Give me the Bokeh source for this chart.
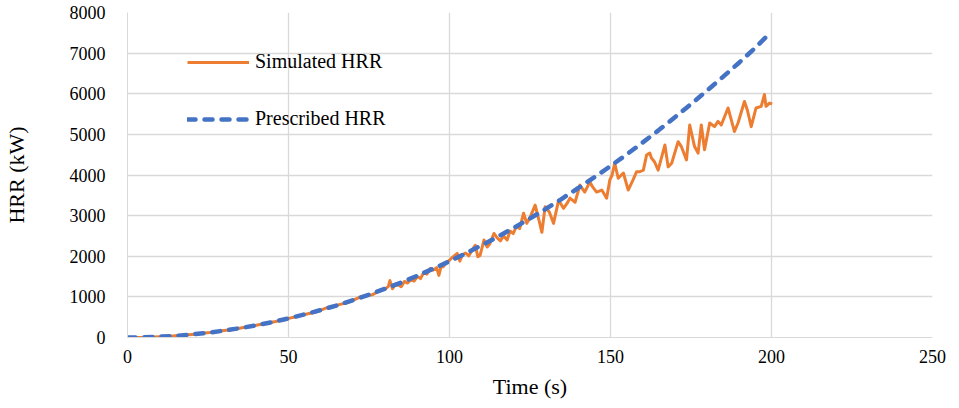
from bokeh.plotting import figure
from bokeh.models import Range1d, FixedTicker, Legend, LegendItem
from bokeh.embed import file_html
from bokeh.resources import INLINE

# Prescribed HRR (kW)
prescribed_t = [0, 5, 10, 15, 20, 25, 30, 35, 40, 45, 50, 55, 60, 65, 70, 75, 80, 85, 90, 95,
                100, 105, 110, 115, 120, 125, 130, 135, 140, 145, 150, 155, 160, 165, 170, 175,
                180, 185, 190, 195, 200]
prescribed_hrr = [0, 5, 20, 40, 75, 115, 170, 230, 300, 380, 470, 570, 675, 790, 920, 1055,
                  1200, 1355, 1520, 1695, 1875, 2070, 2270, 2480, 2700, 2930, 3170, 3420, 3680,
                  3945, 4220, 4505, 4800, 5105, 5420, 5745, 6080, 6420, 6770, 7135, 7530]

# Simulated HRR (kW)
simulated_t = [0, 2, 4, 6, 8, 10, 12, 14, 16, 18, 20, 22, 24, 26, 28, 30, 32, 34, 36, 38, 40,
               42, 44, 46, 48, 50, 52, 54, 56, 58, 60, 62, 64, 66, 68, 70, 72, 74, 76, 78, 80,
               81, 81.5, 82.3, 83, 84, 85, 86, 87, 88, 89, 90, 91, 92, 93, 94, 95, 96, 96.7,
               97.5, 98, 99, 100, 101, 102.4, 103.2, 104, 105, 106, 107, 108, 108.8, 109.5,
               110.7, 111.7, 112.5, 113.8, 114.8, 115.8, 116.8, 117.9, 118.8, 119.8, 120.8,
               121.8, 123, 124, 125, 126.6, 127.5, 128.7, 129.7, 131, 132.3, 133.9, 135.4,
               136.5, 137.4, 139, 140.5, 142, 143.6, 144.5, 145.7, 147.3, 148.8, 149.8, 150.5,
               151.3, 152.4, 154, 155.5, 157, 158.1, 159.1, 160.2, 161.2, 162.2, 162.7, 163.7,
               164.8, 166.9, 167.9, 169, 171, 172, 173.6, 174.6, 176.1, 177.2, 178.2, 179.2,
               180.8, 182.3, 183.4, 184.4, 186.5, 188.5, 189.6, 191.6, 192.5, 193.7, 195.2,
               196.8, 197.8, 198.3, 199.4, 200.2]
simulated_hrr = [0, 1, 3, 6, 12, 18, 27, 37, 48, 60, 74, 91, 108, 126, 146, 170, 192, 215, 244,
                 270, 300, 330, 365, 395, 430, 470, 505, 548, 585, 615, 672, 735, 765, 815, 850,
                 915, 990, 1025, 1050, 1140, 1190, 1260, 1400, 1200, 1280, 1300, 1250, 1380,
                 1340, 1420, 1390, 1500, 1450, 1600, 1560, 1700, 1660, 1720, 1530, 1790, 1740,
                 1840, 1900, 1980, 2070, 1880, 2030, 2080, 2010, 2150, 2270, 1990, 2020, 2400,
                 2230, 2300, 2560, 2450, 2380, 2500, 2400, 2620, 2560, 2740, 2680, 3060, 2810,
                 2950, 3260, 2980, 2590, 3220, 3090, 2810, 3380, 3180, 3300, 3430, 3330, 3750,
                 3580, 3830, 3700, 3580, 3630, 3430, 3880, 4000, 4290, 3920, 4050, 3630, 3880,
                 4080, 4080, 4120, 4490, 4540, 4420, 4320, 4120, 4740, 4200, 4290, 4820, 4700,
                 4370, 5230, 4700, 4540, 5230, 4620, 5280, 5190, 5320, 5230, 5650, 5070, 5280,
                 5810, 5600, 5190, 5650, 5690, 5980, 5690, 5770, 5750]

x_ticks = [0, 50, 100, 150, 200, 250]
y_ticks = [0, 1000, 2000, 3000, 4000, 5000, 6000, 7000, 8000]

FONT = "Liberation Serif"

p = figure(frame_width=805, frame_height=325, output_backend="svg", toolbar_location=None,
           x_range=Range1d(0, 250), y_range=Range1d(0, 8000),
           min_border_left=120, min_border_right=22, min_border_top=12, min_border_bottom=60)
p.outline_line_color = None
p.background_fill_color = "white"

for ax in (p.xaxis[0], p.yaxis[0]):
    ax.axis_line_color = "#D9D9D9"
    ax.major_tick_line_color = None
    ax.minor_tick_line_color = None
    ax.major_label_text_font = FONT
    ax.major_label_text_font_size = "18px"
    ax.major_label_text_color = "black"
    ax.axis_label_text_font = FONT
    ax.axis_label_text_font_size = "22px"
    ax.axis_label_text_font_style = "normal"
    ax.axis_label_text_color = "black"

p.xaxis.ticker = FixedTicker(ticks=x_ticks)
p.yaxis.ticker = FixedTicker(ticks=y_ticks)
p.xaxis.axis_label = "Time (s)"
p.yaxis.axis_label = "HRR (kW)"
p.xaxis.major_label_standoff = 6
p.yaxis.major_label_standoff = 16
p.xaxis.axis_label_standoff = 8
p.yaxis.axis_label_standoff = 38

p.xgrid.ticker = FixedTicker(ticks=x_ticks)
p.ygrid.ticker = FixedTicker(ticks=y_ticks)
p.xgrid.grid_line_color = "#D9D9D9"
p.ygrid.grid_line_color = "#D9D9D9"
p.xgrid.grid_line_width = 1.3
p.ygrid.grid_line_width = 1.3

r_sim = p.line(simulated_t, simulated_hrr, line_color="#ED7D31", line_width=3,
               line_join="round")
r_pre = p.line(prescribed_t, prescribed_hrr, line_color="#4472C4", line_width=4.5,
               line_dash="8 9", line_cap="round")

legend = Legend(items=[LegendItem(label="Simulated HRR", renderers=[r_sim]),
                       LegendItem(label="Prescribed HRR", renderers=[r_pre])],
                location=(60, 207), orientation="vertical")
legend.border_line_color = None
legend.background_fill_alpha = 0
legend.padding = 0
legend.margin = 0
legend.spacing = 34
legend.glyph_width = 62
legend.glyph_height = 20
legend.label_height = 20
legend.label_standoff = 6
legend.label_text_font = FONT
legend.label_text_font_size = "20px"
legend.label_text_color = "black"
p.add_layout(legend, "center")

open("out.html", "w").write(file_html(p, INLINE))
